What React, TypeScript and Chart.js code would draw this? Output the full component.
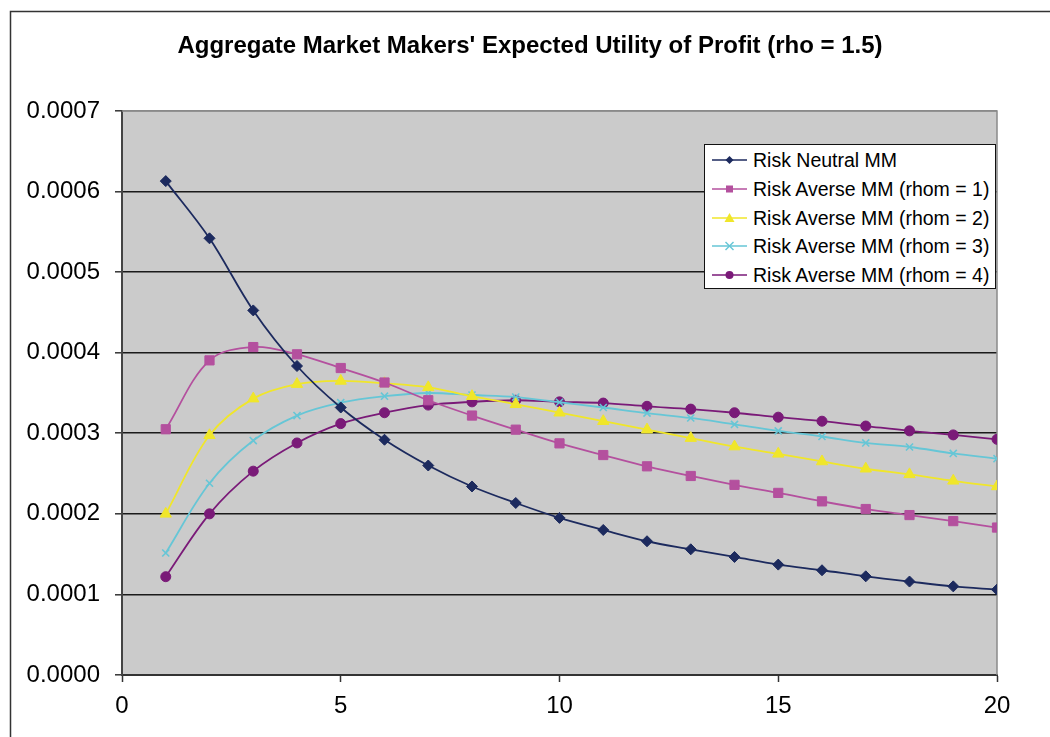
import React, { useEffect, useRef } from "react";
import { Chart, registerables } from "chart.js";

Chart.register(...registerables);

// ---------- data ----------
const xValues = [1, 2, 3, 4, 5, 6, 7, 8, 9, 10, 11, 12, 13, 14, 15, 16, 17, 18, 19, 20];

const riskNeutral = [
  0.000613, 0.000542, 0.0004525, 0.0003835, 0.000332, 0.000292, 0.00026, 0.000234, 0.0002135, 0.000195,
  0.00018, 0.000166, 0.000156, 0.0001465, 0.000137, 0.00013, 0.0001225, 0.000116, 0.00011, 0.000106,
];
const rhom1 = [
  0.000305, 0.0003905, 0.000407, 0.000398, 0.000381, 0.000363, 0.000341, 0.000322, 0.0003045, 0.0002875,
  0.000273, 0.000259, 0.000247, 0.000236, 0.000226, 0.0002155, 0.000206, 0.0001985, 0.000191, 0.000183,
];
const rhom2 = [
  0.0002, 0.0002975, 0.000343, 0.000361, 0.000365, 0.000362, 0.000357, 0.000346, 0.000336, 0.0003255,
  0.000315, 0.0003045, 0.000294, 0.0002835, 0.0002745, 0.000265, 0.000256, 0.000249, 0.000241, 0.000234,
];
const rhom3 = [
  0.0001514, 0.000238, 0.000291, 0.000322, 0.000338, 0.000346, 0.00035, 0.0003475, 0.000345, 0.0003385,
  0.000332, 0.000325, 0.000319, 0.000311, 0.000303, 0.000296, 0.000288, 0.000283, 0.000275, 0.0002685,
];
const rhom4 = [
  0.000122, 0.0002, 0.000253, 0.000288, 0.000312, 0.0003255, 0.000335, 0.000339, 0.000341, 0.000339,
  0.0003375, 0.0003335, 0.00033, 0.0003255, 0.00032, 0.000315, 0.000309, 0.000303, 0.000298, 0.0002925,
];

const seriesLabels = [
  "Risk Neutral MM",
  "Risk Averse MM (rhom = 1)",
  "Risk Averse MM (rhom = 2)",
  "Risk Averse MM (rhom = 3)",
  "Risk Averse MM (rhom = 4)",
];
const seriesValues = [riskNeutral, rhom1, rhom2, rhom3, rhom4];

const titleText = "Aggregate Market Makers' Expected Utility of Profit (rho = 1.5)";
const yMin = 0;
const yMax = 0.0007;
const yStep = 0.0001;
const xMin = 0;
const xMax = 20;
const xStep = 5;

// ---------- styles ----------
const FONT = "'Liberation Sans', Arial, Helvetica, sans-serif";
const seriesColors = ["#1c2a5e", "#b4509e", "#f0e62a", "#66c6d6", "#7a1a78"];
const seriesPointStyles = ["rectRot", "rect", "triangle", "crossRot", "circle"];
const seriesPointRadius = [5.5, 6.5, 6.5, 5, 5];

const plotBackground: any = {
  id: "plotBackground",
  beforeDraw(chart: any) {
    const { ctx, chartArea } = chart;
    ctx.save();
    ctx.fillStyle = "#cbcbcb";
    ctx.fillRect(chartArea.left, chartArea.top, chartArea.right - chartArea.left, chartArea.bottom - chartArea.top);
    // outer chart frame
    ctx.strokeStyle = "#333";
    ctx.lineWidth = 1.5;
    ctx.beginPath();
    ctx.moveTo(10.5, 740);
    ctx.lineTo(10.5, 11.5);
    ctx.lineTo(1060, 11.5);
    ctx.stroke();
    ctx.restore();
  },
  beforeDatasetsDraw(chart: any) {
    const { ctx, chartArea } = chart;
    ctx.save();
    ctx.strokeStyle = "#8a8a8a";
    ctx.lineWidth = 1.5;
    ctx.beginPath();
    ctx.moveTo(chartArea.left, chartArea.top);
    ctx.lineTo(chartArea.right, chartArea.top);
    ctx.lineTo(chartArea.right, chartArea.bottom);
    ctx.stroke();
    ctx.restore();
  },
};

function LegendMarker({ idx }: { idx: number }) {
  const c = seriesColors[idx];
  const cx = 17.5;
  const cy = 6;
  let marker: any = null;
  if (idx === 0) marker = <polygon points={`${cx},${cy - 4} ${cx + 4},${cy} ${cx},${cy + 4} ${cx - 4},${cy}`} fill={c} />;
  if (idx === 1) marker = <rect x={cx - 3.5} y={cy - 3.5} width={7} height={7} fill={c} />;
  if (idx === 2) marker = <polygon points={`${cx},${cy - 5} ${cx + 5},${cy + 4} ${cx - 5},${cy + 4}`} fill={c} />;
  if (idx === 3)
    marker = (
      <g stroke={c} strokeWidth={1.5}>
        <line x1={cx - 4} y1={cy - 4} x2={cx + 4} y2={cy + 4} />
        <line x1={cx - 4} y1={cy + 4} x2={cx + 4} y2={cy - 4} />
      </g>
    );
  if (idx === 4) marker = <circle cx={cx} cy={cy} r={4} fill={c} />;
  return (
    <svg width={35} height={12} style={{ display: "block" }}>
      <line x1={0} y1={cy} x2={35} y2={cy} stroke={c} strokeWidth={1.5} />
      {marker}
    </svg>
  );
}

export default function App() {
  const canvasRef = useRef<HTMLCanvasElement | null>(null);

  useEffect(() => {
    const canvas = canvasRef.current;
    if (!canvas) return;
    const datasets = seriesValues.map((vals, i) => ({
      label: seriesLabels[i],
      data: vals.map((v, j) => ({ x: xValues[j], y: v })),
      borderColor: seriesColors[i],
      backgroundColor: seriesColors[i],
      pointBackgroundColor: seriesColors[i],
      pointBorderColor: seriesColors[i],
      pointStyle: seriesPointStyles[i],
      pointRadius: seriesPointRadius[i],
      pointBorderWidth: i === 3 ? 1.6 : 1,
      borderWidth: 1.8,
      tension: 0.35,
      fill: false,
    }));

    const chart = new Chart(canvas, {
      type: "line",
      data: { datasets },
      plugins: [plotBackground],
      options: {
        animation: false,
        responsive: false,
        maintainAspectRatio: false,
        layout: { padding: { left: 10, right: 0, top: 0, bottom: 0 } },
        plugins: {
          legend: { display: false },
          tooltip: { enabled: false },
          title: {
            display: true,
            text: titleText,
            color: "#000",
            font: { family: FONT, size: 24, weight: "bold" },
            padding: { top: 32, bottom: 50.2 },
          },
        },
        scales: {
          x: {
            type: "linear",
            min: xMin,
            max: xMax,
            afterFit: (s: any) => {
              s.height = 62;
              s.paddingRight = 53;
            },
            ticks: {
              stepSize: xStep,
              color: "#000",
              font: { family: FONT, size: 24 },
              padding: 10,
              maxRotation: 0,
            },
            grid: {
              drawOnChartArea: false,
              drawTicks: true,
              tickLength: 7,
              tickColor: "#333",
              tickWidth: 1.5,
            },
            border: { display: true, color: "#333", width: 2 },
          },
          y: {
            type: "linear",
            min: yMin,
            max: yMax,
            afterFit: (s: any) => {
              s.width = 112;
            },
            ticks: {
              stepSize: yStep,
              color: "#000",
              font: { family: FONT, size: 24 },
              padding: 15,
              callback: (v: any) => Number(v).toFixed(4),
            },
            grid: {
              drawOnChartArea: true,
              drawTicks: true,
              tickLength: 7,
              tickColor: "#333",
              tickWidth: 1.5,
              lineWidth: 1.6,
              color: (ctx: any) => {
                const v = ctx.tick ? ctx.tick.value : 0;
                if (Math.abs(v - yMax) < 1e-9) return "#8a8a8a";
                return "#1a1a1a";
              },
            },
            border: { display: true, color: "#444", width: 2 },
          },
        },
      },
    });
    return () => chart.destroy();
  }, []);

  return (
    <div
      style={{
        position: "absolute",
        left: 0,
        top: 0,
        width: 1050,
        height: 737,
        overflow: "hidden",
        background: "#fff",
      }}
    >
      <canvas ref={canvasRef} width={1050} height={737} style={{ width: 1050, height: 737, display: "block" }} />
      <div
        style={{
          position: "absolute",
          left: 704,
          top: 144,
          width: 290,
          height: 143,
          border: "1px solid #111",
          background: "#fff",
          fontFamily: FONT,
          fontSize: 19.5,
          color: "#000",
        }}
      >
        {seriesLabels.map((lab, i) => (
          <div
            key={lab}
            style={{
              position: "absolute",
              left: 7,
              top: 15 + i * 28.75 - 11,
              height: 22,
              display: "flex",
              alignItems: "center",
              whiteSpace: "nowrap",
              lineHeight: "22px",
            }}
          >
            <LegendMarker idx={i} />
            <span style={{ marginLeft: 6 }}>{lab}</span>
          </div>
        ))}
      </div>
    </div>
  );
}
